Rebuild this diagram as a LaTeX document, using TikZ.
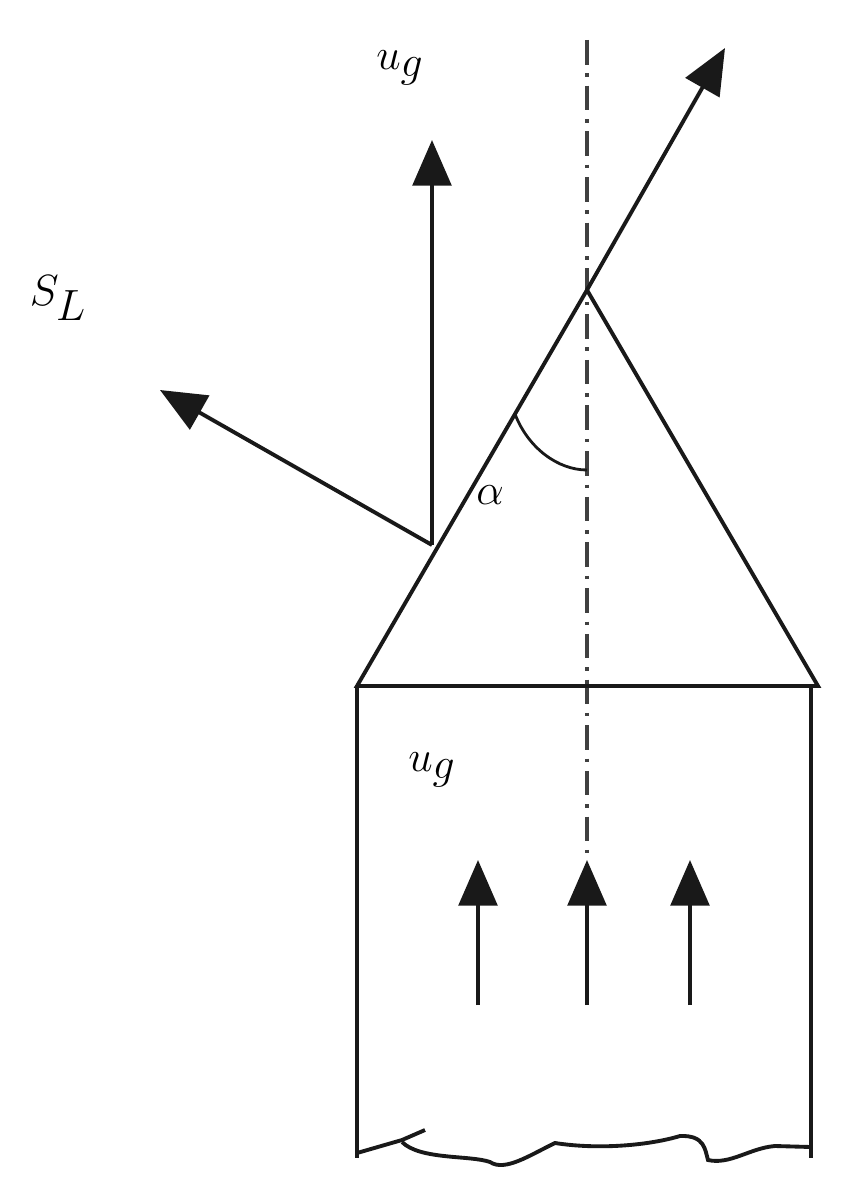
\documentclass[tikz,border=0pt]{standalone}
\usetikzlibrary{arrows.meta}
\tikzset{ln/.style={line width=2.2pt,black!90},
  arr/.style={ln,-{Triangle[length=26pt,width=22pt]}},
  lbl/.style={font=\fontsize{34}{34}\selectfont}}
\begin{document}
\begin{tikzpicture}[x=0.02cm,y=-0.02cm]
\useasboundingbox (0,0) rectangle (844,1203);
\coordinate (axT) at (587,40);
\coordinate (axB) at (587,860);
\draw[ln,line width=1.8pt,dash pattern=on 14pt off 5pt on 2pt off 5pt,black!75] (axT) -- (axB);
\coordinate (apex) at (587,290);
\coordinate (bl) at (357,686);
\coordinate (br) at (818,686);
\draw[ln] (bl) -- (apex) -- (br) -- cycle;
\coordinate (tip) at (725,48);
\draw[arr] (apex) -- (tip);
\coordinate (lb) at (357,1158);
\coordinate (rt) at (811,686);
\coordinate (rb) at (811,1158);
\draw[ln] (bl) -- (lb);
\draw[ln] (rt) -- (rb);
\draw[ln] (357,1153) -- (402,1140) -- (425,1130);
\draw[ln] (402,1142) .. controls (420,1160) and (470,1155) .. (490,1162)
  .. controls (505,1172) and (530,1155) .. (555,1143)
  .. controls (600,1150) and (650,1145) .. (680,1136)
  .. controls (705,1135) and (705,1150) .. (708,1160)
  .. controls (730,1165) and (750,1148) .. (775,1146) -- (811,1147);
\coordinate (P) at (432,545);
\coordinate (Pu) at (432,140);
\coordinate (Ps) at (160,390);
\draw[arr] (P) -- (Pu);
\draw[arr] (P) -- (Ps);
\coordinate (a1) at (515,414);
\coordinate (a2) at (587,470);
\draw[ln,line width=1.6pt] (a1) .. controls (528,448) and (558,470) .. (a2);
\foreach \x/\n in {478/l,587/m,690/r}{
  \coordinate (s\n) at (\x,1005);
  \coordinate (e\n) at (\x,860);
  \draw[arr] (s\n) -- (e\n);}
\node[lbl] (ug1) at (400,68) {$u_g$};
\node[lbl] (sl) at (58,298) {$S_L$};
\node[lbl] (ug2) at (432,770) {$u_g$};
\node[lbl] (al) at (490,495) {$\alpha$};
\end{tikzpicture}
\end{document}
